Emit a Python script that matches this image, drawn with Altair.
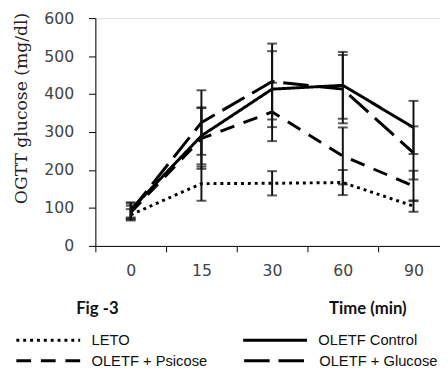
import altair as alt
import pandas as pd

times = ["0", "15", "30", "60", "90"]
row1_groups = ["LETO", "OLETF Control"]
row2_groups = ["OLETF + Psicose", "OLETF + Glucose"]

leto_mean = [82, 164, 165, 167, 105]
leto_err = [15, 45, 32, 33, 15]
control_mean = [95, 290, 413, 423, 312]
control_err = [20, 75, 100, 88, 70]
psicose_mean = [88, 283, 353, 237, 158]
psicose_err = [18, 80, 77, 75, 40]
glucose_mean = [92, 325, 433, 413, 245]
glucose_err = [20, 85, 100, 90, 70]

y_ticks = [0, 100, 200, 300, 400, 500, 600]

series = {
    "LETO": (leto_mean, leto_err),
    "OLETF Control": (control_mean, control_err),
    "OLETF + Psicose": (psicose_mean, psicose_err),
    "OLETF + Glucose": (glucose_mean, glucose_err),
}
rows = []
for g in row1_groups + row2_groups:
    m, e = series[g]
    for t, mv, ev in zip(times, m, e):
        rows.append({"group": g, "time": t, "mean": mv, "err": ev,
                     "lo": mv - ev, "hi": mv + ev})
df = pd.DataFrame(rows)

row1_dashes = [[3, 4], [1, 0]]
row2_dashes = [[15, 10], [26, 9]]

x_axis = alt.Axis(
    title="Time (min)",
    titleFont="Lato", titleFontWeight="bold", titleFontSize=17, titleColor="#111",
    titleX=277, titleY=69, titleBaseline="alphabetic", titleAlign="center",
    labelFont="DejaVu Sans", labelFontSize=16, labelColor="#444",
    labelPadding=11, tickSize=6, tickBand="extent", labelAngle=0,
    domainColor="black", tickColor="black", grid=False,
)
x_scale = alt.Scale(type="band", paddingInner=0, paddingOuter=0)
y_axis = alt.Axis(
    values=y_ticks, labelOverlap=False,
    title="OGTT glucose (mg/dl)",
    titleFont="DejaVu Serif", titleFontWeight="normal", titleFontSize=17.5, titleColor="#222",
    titleX=-70, titleY=91.5, titleBaseline="alphabetic", titleAlign="center", titleAngle=-90,
    labelFont="DejaVu Sans", labelFontSize=16, labelColor="#444",
    labelPadding=15, tickSize=7, domainColor="black", tickColor="black", grid=False,
)
y_scale = alt.Scale(domain=[0, 600], nice=False)


def X():
    return alt.X("time:N", sort=times, scale=x_scale, axis=x_axis)


def Y(field):
    return alt.Y(field, scale=y_scale, axis=y_axis, title="OGTT glucose (mg/dl)")


def legend(y, pad):
    return alt.Legend(
        title=None, orient="none", legendX=-82, legendY=y,
        direction="horizontal", columns=2, columnPadding=pad,
        symbolType="stroke", symbolSize=4225, symbolStrokeWidth=3,
        symbolStrokeColor="black",
        labelFont="Liberation Sans", labelFontSize=15, labelColor="#111",
        labelOffset=10, labelLimit=300,
    )


base = alt.Chart(df)


def line_layer(grp, dashes, ly, pad):
    return base.transform_filter(
        alt.FieldOneOfPredicate(field="group", oneOf=grp)
    ).mark_line(color="black", strokeWidth=3, strokeCap="butt").encode(
        x=X(),
        y=Y("mean:Q"),
        strokeDash=alt.StrokeDash(
            "group:N",
            scale=alt.Scale(domain=grp, range=dashes),
            legend=legend(ly, pad),
        ),
        detail="group:N",
    )


lines1 = line_layer(row1_groups, row1_dashes, 294, 109)
lines2 = line_layer(row2_groups, row2_dashes, 315, 31)

rules = base.mark_rule(color="#111", strokeWidth=2).encode(
    x=X(), y=Y("lo:Q"), y2="hi:Q"
)
caps_lo = base.mark_tick(color="#111", thickness=2, size=10).encode(
    x=X(), y=Y("lo:Q")
)
caps_hi = base.mark_tick(color="#111", thickness=2, size=10).encode(
    x=X(), y=Y("hi:Q")
)

fig_label = alt.Chart(pd.DataFrame({"t": ["Fig -3"]})).mark_text(
    font="Lato", fontWeight="bold", fontSize=17, color="#111",
    align="center", baseline="alphabetic",
).encode(text="t:N", x=alt.value(2), y=alt.value(301))

chart = alt.layer(lines1, lines2, rules, caps_lo, caps_hi, fig_label).resolve_scale(
    strokeDash="independent"
).resolve_legend(strokeDash="independent").properties(
    width=360, height=232,
    autosize=alt.AutoSizeParams(type="none"),
    padding={"left": 89, "top": 7, "right": -9, "bottom": 121},
).configure_view(stroke=None).configure(background="white")

chart.save("out.html", embed_options={"renderer": "svg", "actions": False})
